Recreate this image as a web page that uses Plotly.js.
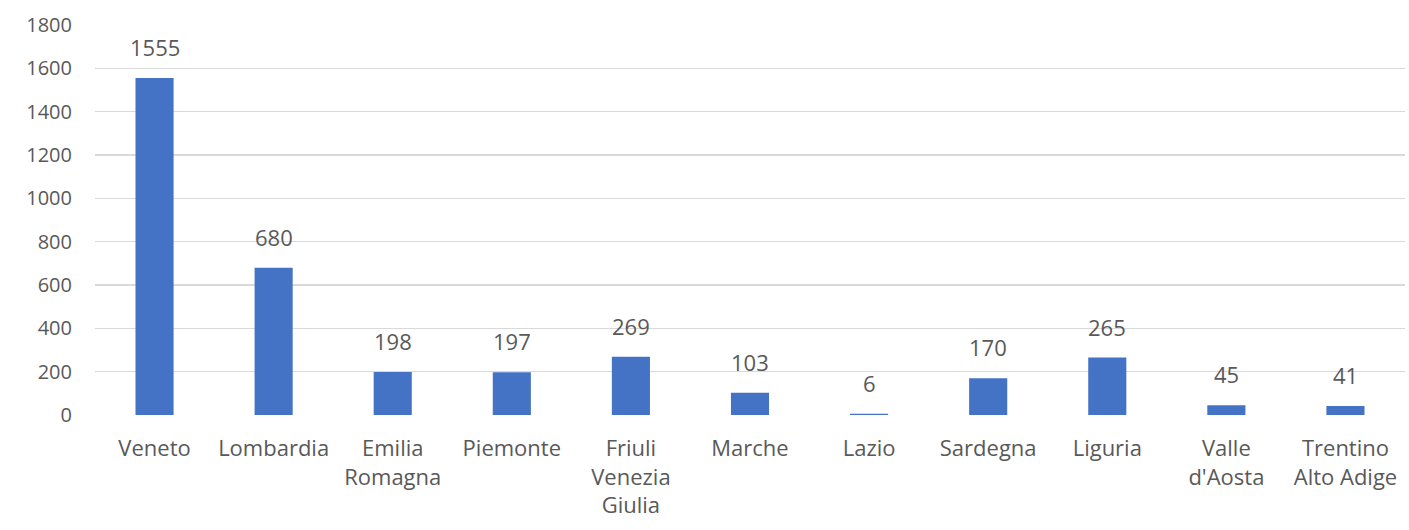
<!DOCTYPE html>
<html>
<head>
<meta charset="utf-8">
<script src="https://cdn.plot.ly/plotly-3.0.1.min.js"></script>
<style>html,body{margin:0;padding:0;background:#fff;}#chart{width:1409px;height:530px;}</style>
</head>
<body>
<div id="chart"></div>
<script>
var categories = ["Veneto", "Lombardia", "Emilia<br>Romagna", "Piemonte", "Friuli<br>Venezia<br>Giulia", "Marche", "Lazio", "Sardegna", "Liguria", "Valle<br>d'Aosta", "Trentino<br>Alto Adige"];
var values = [1555, 680, 198, 197, 269, 103, 6, 170, 265, 45, 41];
var yTicks = [0, 200, 400, 600, 800, 1000, 1200, 1400, 1600, 1800];

var font = "Open Sans, Noto Sans, sans-serif";
var grey = "#595959";

var trace = {
  type: "bar",
  x: categories,
  y: values,
  marker: {color: "#4472C4"},
  hoverinfo: "skip"
};

var annotations = categories.map(function (c, i) {
  return {
    x: c, y: values[i], xref: "x", yref: "y",
    text: String(values[i]), showarrow: false,
    yanchor: "bottom", yshift: 14,
    font: {family: font, size: 22, color: grey}
  };
});

var layout = {
  width: 1409, height: 530,
  margin: {l: 95, r: 4, t: 25, b: 115},
  paper_bgcolor: "#fff", plot_bgcolor: "#fff",
  bargap: 0.68,
  showlegend: false,
  font: {family: font, size: 20, color: grey},
  xaxis: {
    type: "category",
    tickfont: {family: font, size: 22, color: grey},
    showgrid: false, zeroline: false, showline: false,
    ticks: "", ticklabelstandoff: 18, automargin: false
  },
  yaxis: {
    range: [0, 1800],
    tickvals: yTicks,
    ticktext: yTicks.map(String),
    tickfont: {family: font, size: 20, color: grey},
    showgrid: true, gridcolor: "#D9D9D9", gridwidth: 1.3,
    zeroline: false, showline: false, ticks: "",
    ticklabelstandoff: 22, automargin: false
  },
  annotations: annotations
};

Plotly.newPlot("chart", [trace], layout, {displayModeBar: false, staticPlot: true});
</script>
</body>
</html>
